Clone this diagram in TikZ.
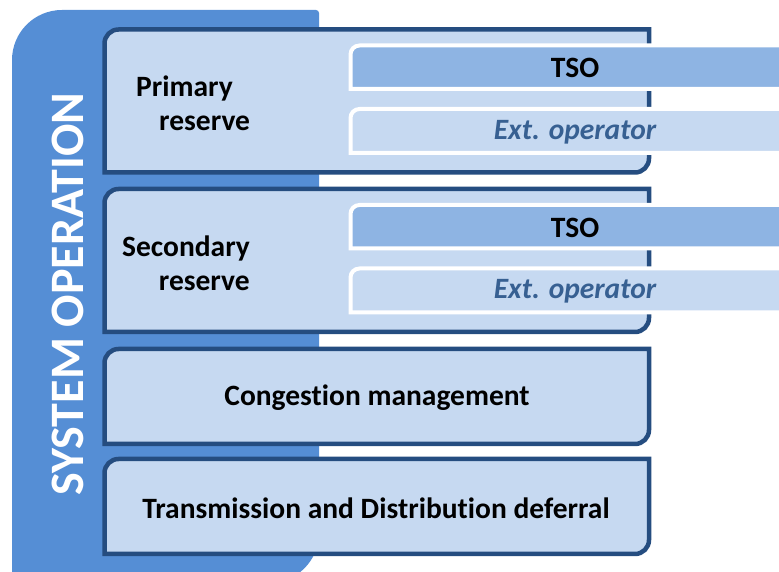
\documentclass[tikz,border=0pt]{standalone}
\usepackage{fontspec}
\setmainfont{Carlito}[Ligatures=NoCommon]
\usepackage{tikz}
\usetikzlibrary{calc}

\definecolor{tabblue}{HTML}{558ED5}
\definecolor{boxfill}{HTML}{C6D9F1}
\definecolor{boxline}{HTML}{254D80}
\definecolor{tsofill}{HTML}{8EB4E3}
\definecolor{exttext}{HTML}{376092}

\tikzset{
  layerbox/.style={draw=boxline, line width=4.5pt, fill=boxfill},
  rolebar/.style={draw=white, line width=4pt},
  lbl/.style={font=\fontsize{29.5}{34}\selectfont\bfseries, inner sep=0pt},
}

\begin{document}
\begin{tikzpicture}[x=1pt,y=1pt]
  \useasboundingbox (0,0) rectangle (779,572);
  \clip (0,0) rectangle (779,572);

  % blue tab behind everything
  \fill[tabblue] (12,-11) -- (12,512) arc[start angle=180,end angle=90,radius=50]
    -- (316,562) arc[start angle=90,end angle=0,radius=3]
    -- (319,39) arc[start angle=0,end angle=-90,radius=50] -- cycle;
  \node[lbl, text=white, rotate=90, font=\fontsize{48}{50}\selectfont\bfseries] (sysop) at (68,278) {SYSTEM OPERATION};

  % four layers (bottom/top)
  \foreach \b/\t in {399.5/542.5, 240/383, 128/223, 18/113} {
    \draw[layerbox] (104.5,\b) -- (104.5,\t-14) arc[start angle=180,end angle=90,radius=14]
      -- (649,\t) -- (649,\b+14) arc[start angle=0,end angle=-90,radius=14] -- cycle;
  }

  % operator bars (bottom/top/fill)
  \foreach \b/\t/\c in {483/526.5/tsofill, 419/463/boxfill, 323.5/367/tsofill, 259.5/303.5/boxfill} {
    \draw[rolebar, fill=\c] (350.5,\b) -- (350.5,\t-9) arc[start angle=180,end angle=90,radius=9]
      -- (800,\t) -- (800,\b) -- cycle;
  }

  \node[lbl, align=left, anchor=west] (primary) at (136,469) {Primary\\\hspace*{23pt}reserve};
  \node[lbl, align=right, anchor=east] (secondary) at (250,309) {Secondary\\reserve};

  \node[lbl] (tsoA) at (575,503.75) {TSO};
  \node[lbl, text=exttext, font=\fontsize{29.5}{34}\selectfont\bfseries\itshape] (extA) at (575,440) {Ext. operator};
  \node[lbl] (tsoB) at (575,344.25) {TSO};
  \node[lbl, text=exttext, font=\fontsize{29.5}{34}\selectfont\bfseries\itshape] (extB) at (575,280.5) {Ext. operator};

  \node[lbl] (congestion) at (377,174) {Congestion management};
  \node[lbl] (deferral) at (376,64) {Transmission and Distribution deferral};

\end{tikzpicture}
\end{document}
